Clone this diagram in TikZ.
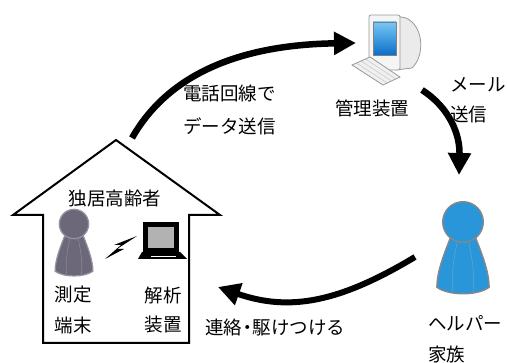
\documentclass[tikz,border=0pt]{standalone}
\usepackage{fontspec}
\newfontfamily\jpfont{Noto Sans CJK JP}
\usetikzlibrary{arrows.meta,calc}

\begin{document}
\begin{tikzpicture}[
	x=1pt,
	y=-1pt,
	font=\jpfont\fontsize{18.5}{22}\selectfont,
	jtext/.style={inner sep=0pt},
	lefttext/.style={inner sep=0pt,anchor=west},
	wall/.style={draw=black,line width=2pt,line join=miter},
	flow/.style={line width=6.5pt,-{Triangle[length=22pt,width=22pt]}},
	person/.pic={
		\path[pic actions] (-8,9) .. controls (-13,22) and (-18,34) .. (-18,45)
			.. controls (-10,51) and (10,51) .. (18,45)
			.. controls (18,34) and (13,22) .. (8,9) -- cycle;
		\draw[draw=black!25,opacity=0.35,line width=0.6pt] (-4,14) .. controls (-7,28) and (-8,38) .. (-7,48);
		\draw[draw=black!25,opacity=0.35,line width=0.6pt] (4,14) .. controls (7,28) and (8,38) .. (7,48);
		\path[pic actions] (0,0) circle (14);
	},
	greyman/.style={fill={rgb,255:red,108;green,104;blue,122},draw={rgb,255:red,150;green,148;blue,160},line width=1.2pt},
	blueman/.style={fill={rgb,255:red,40;green,150;blue,216},draw={rgb,255:red,135;green,135;blue,135},line width=1.4pt}
	]
	\useasboundingbox (0,0) rectangle (507,363);
	
	% house outline
	\draw[wall] (43,343) -- (43,215) -- (13,215) -- (116,140) -- (220,215)
		-- (189,215) -- (189,343) -- cycle;
	\node[jtext] (elderly) at (115,198) {独居高齢者};
	
	% person at home and laptop
	\pic[greyman,scale=1.05] at (74,224) {person};
	\fill[black] (137,236) -- (117,249) -- (124,249) -- (105,259) -- (121,245) -- (114,245) -- cycle;
	\fill[black] (143,222) rectangle (179,252);
	\fill[black!30] (148,227) rectangle (174,248);
	\fill[black] (142,252) -- (180,252) -- (187,259) -- (138,259) -- cycle;
	\draw[white,line width=0.5pt] (151,256) -- (176,256);
	
	\node[jtext] (sokutei) at (73,295) {測定};
	\node[jtext] (tanmatsu) at (73,325) {端末};
	\node[jtext] (kaiseki) at (163,295) {解析};
	\node[jtext] (souchi) at (163,325) {装置};
	
	% management computer
	\draw[black!40,fill=black!8,line width=0.8pt] (396,16) -- (406,18) .. controls (424,26) and (425,56) .. (412,68) -- (396,70) -- cycle;
	\draw[black!40,fill=black!4,line width=0.8pt,rounded corners=2pt] (369,15) rectangle (400,70);
	\shade[top color={rgb,255:red,120;green,200;blue,245},bottom color={rgb,255:red,10;green,110;blue,200},draw=black!50,line width=0.5pt] (373,22) rectangle (396,55);
	\draw[black!40,fill=black!6,line width=0.8pt] (352,65) -- (370,57) -- (400,77) -- (383,85) -- cycle;
	\foreach \t in {0.25,0.5,0.75} {
		\draw[black!25,line width=0.4pt] ($(352,65)!\t!(370,57)$) -- ($(383,85)!\t!(400,77)$);
	}
	\node[jtext] (kanri) at (372,108) {管理装置};
	
	% helper
	\pic[blueman,scale=1.45] at (463,222) {person};
	\node[lefttext] (helper) at (428,323) {ヘルパー};
	\node[lefttext] (kazoku) at (428,354) {家族};
	
	% arrow labels
	\node[lefttext] (denwa) at (183,93) {電話回線で};
	\node[lefttext] (data) at (183,126) {データ送信};
	\node[lefttext] (mail) at (450,85) {メール};
	\node[lefttext] (soushin) at (450,114) {送信};
	\node[lefttext] (renraku) at (205,327) {連絡\kern-4pt・\kern-4pt 駆けつける};
	
	% connectors
	\coordinate (home-out) at (132,138);
	\coordinate (center-in) at (356,43);
	\coordinate (center-out) at (422,90);
	\coordinate (helper-in) at (459,175);
	\coordinate (helper-out) at (415,257);
	\coordinate (home-in) at (218,287);
	\draw[flow] (home-out) .. controls (165,80) and (230,45) .. (center-in);
	\draw[flow] (center-out) .. controls (450,108) and (460,135) .. (helper-in);
	\draw[flow,line width=6pt] (helper-out) .. controls (340,302) and (290,312) .. (home-in);
\end{tikzpicture}
\end{document}
